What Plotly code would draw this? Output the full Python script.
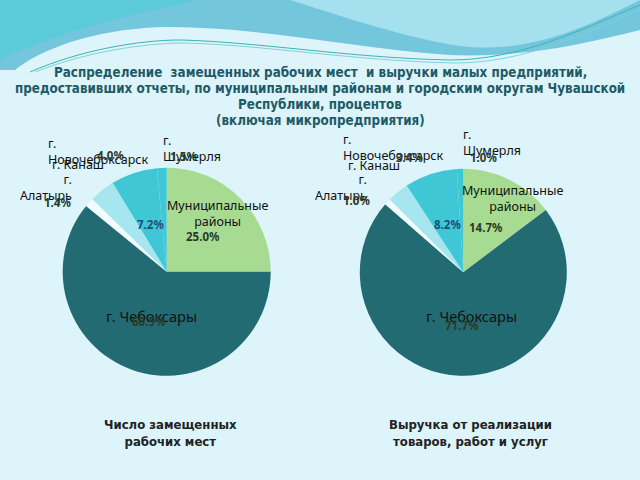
import plotly.graph_objects as go

W, H = 640, 480

# ---------------- data ----------------
categories = ["Муниципальные районы", "г. Чебоксары", "г. Алатырь",
              "г. Новочебоксарск", "г. Канаш", "г. Шумерля"]
jobs_share = [25.0, 60.9, 1.4, 4.0, 7.2, 1.5]        # Число замещенных рабочих мест
revenue_share = [14.7, 71.7, 1.0, 3.4, 8.2, 1.0]     # Выручка от реализации
slice_colors = ["#a8db92", "#226b72", "#f2fbfd", "#a6e6ee", "#40c7d5", "#40c7d5"]

title_lines = ["Распределение  замещенных рабочих мест  и выручки малых предприятий,",
               "предоставивших отчеты, по муниципальным районам и городским округам Чувашской",
               "Республики, процентов",
               "(включая микропредприятия)"]
captions = ["Число замещенных<br>рабочих мест", "Выручка от реализации<br>товаров, работ и услуг"]


def px(x, y):
    return x / W, 1 - y / H


def dom(cx, cy, r):
    return dict(x=[(cx - r) / W, (cx + r) / W], y=[1 - (cy + r) / H, 1 - (cy - r) / H])


fig = go.Figure()
pies = [(jobs_share, dom(166.7, 271.7, 104)), (revenue_share, dom(463.3, 272.3, 103.5))]
for vals, d in pies:
    fig.add_trace(go.Pie(labels=categories, values=vals, sort=False, direction="clockwise",
                         rotation=0, domain=d, textinfo="none", hoverinfo="label+percent",
                         marker=dict(colors=slice_colors, line=dict(width=0)),
                         showlegend=False))

ann = []
NAME_FONT = dict(family="Noto Sans, DejaVu Sans", size=12.5, color="#111111")
BIG_NAME_FONT = dict(family="Noto Sans, DejaVu Sans", size=14.5, color="#111111")
PCT_FONT = dict(family="Noto Sans, DejaVu Sans", size=11.5, color="#2a3a2a")
PCT_BLUE = dict(family="Noto Sans, DejaVu Sans", size=11.5, color="#1f4e79")


def txt(x, y, t, font, align="center", xanchor="center"):
    X, Y = px(x, y)
    ann.append(dict(x=X, y=Y, xref="paper", yref="paper", text=t, showarrow=False,
                    font=font, align=align, xanchor=xanchor, yanchor="middle"))


def name_br(n):
    return n.replace("г. ", "г.<br>", 1)


def pct(v):
    return f"<b>{v:.1f}%</b>"


# Left pie labels
txt(46, 151, name_br(categories[3]), NAME_FONT, align="left", xanchor="left")
txt(50, 164, categories[4], NAME_FONT, align="left", xanchor="left")
txt(110, 155.5, pct(jobs_share[3]), PCT_FONT)
txt(161, 148, name_br(categories[5]), NAME_FONT, align="left", xanchor="left")
txt(183, 156.5, pct(jobs_share[5]), PCT_FONT)
txt(74, 187, name_br(categories[2]), NAME_FONT, align="right", xanchor="right")
txt(57, 203, pct(jobs_share[2]), PCT_FONT)
txt(217, 213, "Муниципальные<br>районы", NAME_FONT)
txt(203, 236.5, pct(jobs_share[0]), PCT_FONT)
txt(150, 224, pct(jobs_share[4]), PCT_BLUE)
txt(151, 316, categories[1], BIG_NAME_FONT)
txt(149, 321.5, pct(jobs_share[1]), PCT_FONT)

# Right pie labels
txt(341, 147, name_br(categories[3]), NAME_FONT, align="left", xanchor="left")
txt(346, 165, categories[4], NAME_FONT, align="left", xanchor="left")
txt(409, 157, pct(revenue_share[3]), PCT_FONT)
txt(461, 142, name_br(categories[5]), NAME_FONT, align="left", xanchor="left")
txt(483, 157, pct(revenue_share[5]), PCT_FONT)
txt(369, 187, name_br(categories[2]), NAME_FONT, align="right", xanchor="right")
txt(356, 200, pct(revenue_share[2]), PCT_FONT)
txt(512, 198, "Муниципальные<br>районы", NAME_FONT)
txt(486, 227.5, pct(revenue_share[0]), PCT_FONT)
txt(447, 224.5, pct(revenue_share[4]), PCT_BLUE)
txt(471, 316, categories[1], BIG_NAME_FONT)
txt(462, 325, pct(revenue_share[1]), PCT_FONT)

# Title
TITLE_FONT = dict(family="DejaVu Sans Condensed, Liberation Sans Narrow, Liberation Sans", size=13.3, color="#1f5a66")
for i, line in enumerate(title_lines):
    txt(320, 72 + 16 * i, f"<b>{line}</b>", TITLE_FONT)

# Captions
CAP_FONT = dict(family="DejaVu Sans Condensed, Liberation Sans Narrow, Liberation Sans", size=13, color="#222222")
txt(170, 433, f"<b>{captions[0]}</b>", CAP_FONT)
txt(470, 433, f"<b>{captions[1]}</b>", CAP_FONT)


# Decorative header waves
def path(points_cmds):
    out = []
    for c in points_cmds:
        if isinstance(c, str):
            out.append(c)
        else:
            X, Y = px(*c)
            out.append(f"{X:.4f},{Y:.4f}")
    return " ".join(out)


shapes = [
    dict(type="path", xref="paper", yref="paper", layer="below", line=dict(width=0),
         fillcolor="#74c6dc",
         path=path(["M", (0, 0), "L", (640, 0), "L", (640, 30), "C", (580, 45), (520, 58), (450, 55),
                    "C", (350, 48), (250, 25), (160, 27), "C", (90, 30), (40, 50), (15, 70), "L", (0, 70), "Z"])),
    dict(type="path", xref="paper", yref="paper", layer="below", line=dict(width=0),
         fillcolor="#5ccbd9",
         path=path(["M", (0, 0), "L", (200, 0), "C", (150, 10), (60, 30), (0, 60), "Z"])),
    dict(type="path", xref="paper", yref="paper", layer="below", line=dict(width=0),
         fillcolor="#a5e0ee",
         path=path(["M", (290, 0), "C", (360, 22), (420, 42), (470, 47), "C", (540, 52), (600, 20), (640, 0), "Z"])),
    dict(type="path", xref="paper", yref="paper", layer="below", line=dict(color="#3bb3b8", width=1),
         path=path(["M", (30, 72), "C", (80, 50), (140, 40), (180, 40), "C", (260, 42), (350, 58), (450, 60),
                    "C", (520, 60), (580, 30), (640, 5)])),
    dict(type="path", xref="paper", yref="paper", layer="below", line=dict(color="#7fd3d6", width=1),
         path=path(["M", (35, 72), "C", (85, 52), (145, 43), (185, 43), "C", (265, 45), (355, 61), (455, 63),
                    "C", (525, 63), (585, 33), (640, 10)])),
]

fig.update_layout(width=W, height=H, margin=dict(l=0, r=0, t=0, b=0),
                  paper_bgcolor="#dcf4fa", plot_bgcolor="#dcf4fa",
                  annotations=ann, shapes=shapes, showlegend=False)

fig.write_html("out.html")
